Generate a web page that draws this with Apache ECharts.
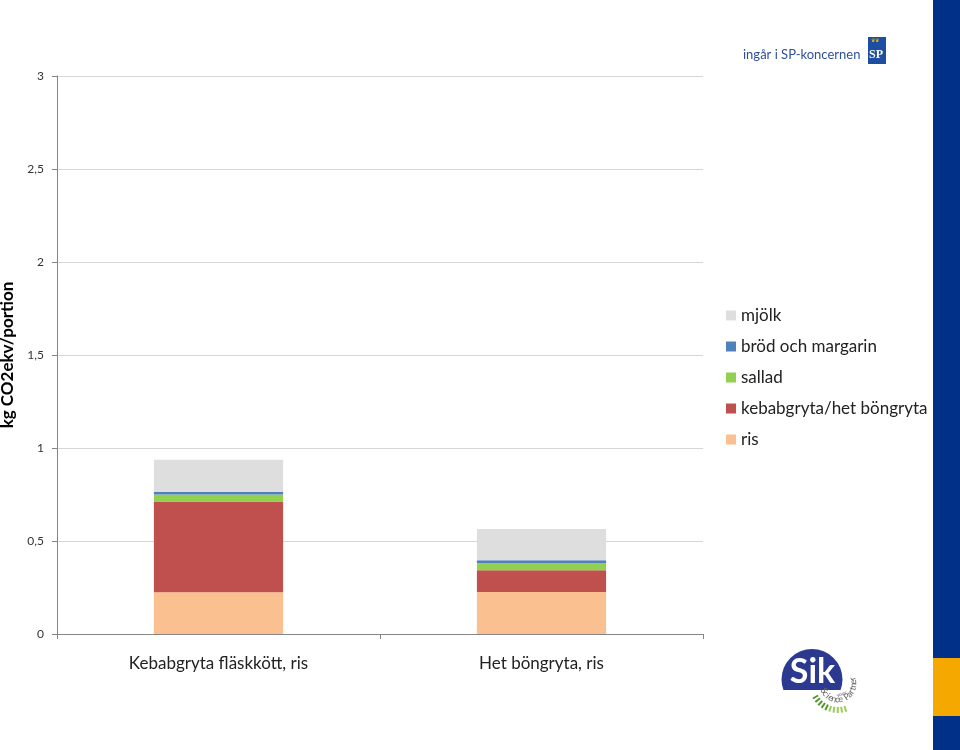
<!DOCTYPE html>
<html><head><meta charset="utf-8">
<script src="https://cdn.jsdelivr.net/npm/echarts@6/dist/echarts.min.js"></script>
<style>html,body{margin:0;padding:0;background:#fff}#c{width:960px;height:750px}</style>
</head><body><div id="c"></div>
<script>
const categories = ['Kebabgryta fläskkött, ris', 'Het böngryta, ris'];
const seriesNames = ['ris', 'kebabgryta/het böngryta', 'sallad', 'bröd och margarin', 'mjölk'];
const ris = [0.225, 0.226];
const huvudratt = [0.487, 0.117];
const sallad = [0.038, 0.038];
const brod = [0.013, 0.016];
const mjolk = [0.174, 0.167];
const yTicks = [0, 0.5, 1, 1.5, 2, 2.5, 3];
const colors = ['#fac090', '#c0504d', '#92d050', '#4f81bd', '#dedede'];
const values = [ris, huvudratt, sallad, brod, mjolk];

const FONT = 'Lato';
const chart = echarts.init(document.getElementById('c'), null, {renderer: 'canvas'});

const series = seriesNames.map((n, i) => ({
  name: n, type: 'bar', stack: 'tot', data: values[i], barWidth: '40%',
  itemStyle: {color: colors[i]}, emphasis: {disabled: true}
}));

// Sik logo decorations (arc text + dashes)
const deco = [];
const LCX = 838, LCY = 684, deg = Math.PI / 180;
for (let k = 0; k < 10; k++) {
  const a = (150 - k * 8.5) * deg, r = 26;
  deco.push({type: 'rect', shape: {x: -1, y: -3, width: 2, height: 6},
    x: LCX + r * Math.cos(a), y: LCY + r * Math.sin(a),
    rotation: Math.PI / 2 - a, style: {fill: k < 5 ? '#4e9a2a' : '#9ccc5a'}});
}
const arcText = 'Science Partner';
for (let k = 0; k < arcText.length; k++) {
  const a = (155 - k * 12.5) * deg, r = 20;
  if (arcText[k] === ' ') continue;
  deco.push({type: 'text', x: LCX + r * Math.cos(a), y: LCY + r * Math.sin(a),
    rotation: Math.PI / 2 - a,
    style: {text: arcText[k], fontFamily: FONT, fontSize: 9, fill: '#666', align: 'center', verticalAlign: 'bottom'}});
}

chart.setOption({
  animation: false,
  textStyle: {fontFamily: FONT},
  grid: {left: 57, right: 257, top: 76, bottom: 116, containLabel: false, outerBoundsMode: 'none'},
  legend: {
    data: seriesNames.slice().reverse(), orient: 'vertical', left: 721, top: 302,
    itemWidth: 10, itemHeight: 10, itemGap: 14, icon: 'rect',
    textStyle: {fontFamily: FONT, fontSize: 17, lineHeight: 16, color: '#222'}
  },
  xAxis: {
    type: 'category', data: categories,
    axisLine: {lineStyle: {color: '#868686'}},
    axisTick: {show: true, length: 5, lineStyle: {color: '#868686'}},
    axisLabel: {fontFamily: FONT, fontSize: 17, color: '#222', margin: 21}
  },
  yAxis: {
    type: 'value', min: 0, max: 3, interval: 0.5,
    name: 'kg CO2ekv/portion', nameLocation: 'middle', nameGap: 39,
    nameTextStyle: {fontFamily: FONT, fontSize: 17, fontWeight: 'bold', color: '#000'},
    axisLine: {show: true, lineStyle: {color: '#868686'}},
    axisTick: {show: true, length: 5, lineStyle: {color: '#868686'}},
    splitLine: {lineStyle: {color: '#d6d6d6'}},
    axisLabel: {fontFamily: FONT, fontSize: 12, color: '#333', margin: 13,
      formatter: v => yTicks.includes(v) ? String(v).replace('.', ',') : ''}
  },
  series: series,
  graphic: [
    {type: 'rect', shape: {x: 933, y: 0, width: 27, height: 750}, style: {fill: '#003087'}},
    {type: 'rect', shape: {x: 933, y: 658, width: 27, height: 58}, style: {fill: '#f5a800'}},
    {type: 'text', x: 743, y: 48, style: {text: 'ingår i SP-koncernen', fontFamily: FONT, fontSize: 13, fill: '#2f4f9e'}},
    {type: 'rect', shape: {x: 868, y: 37, width: 18, height: 27}, style: {fill: '#1e4ea1'}},
    {type: 'text', x: 869, y: 49, style: {text: 'SP', fontFamily: 'Liberation Serif', fontSize: 12, fontWeight: 'bold', fill: '#fff'}},
    {type: 'text', x: 871, y: 38, style: {text: '♛♛', fontSize: 5, fill: '#f5c400'}},
    {type: 'circle', shape: {cx: 812, cy: 679.5, r: 30.5}, style: {fill: '#2b3990'}},
    {type: 'rect', shape: {x: 778, y: 690, width: 70, height: 25}, style: {fill: '#fff'}},
    {type: 'text', x: 812.5, y: 689, style: {text: 'Sik', fontFamily: FONT, fontSize: 34, fontWeight: 'bold', fill: '#fff', align: 'center', verticalAlign: 'bottom'}},
    {type: 'text', x: 836, y: 693, rotation: 0.3, style: {text: 'your', fontFamily: FONT, fontSize: 5, fill: '#666'}}
  ].concat(deco)
});
</script></body></html>
